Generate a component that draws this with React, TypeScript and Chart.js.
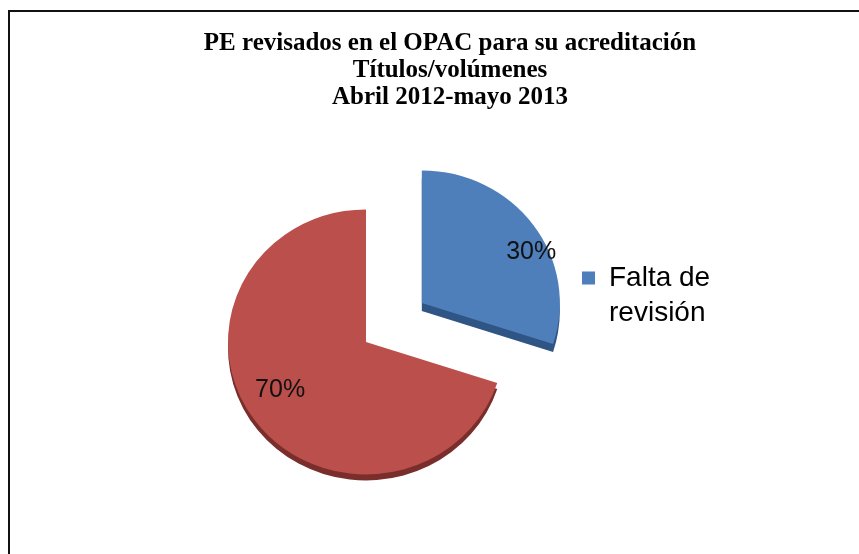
import React, { useEffect, useRef } from 'react';
import { Chart, registerables } from 'chart.js';

Chart.register(...registerables);

// ---- data ----
const categories = ['Falta de revisión', ''];
const values = [30, 70];
const legendLines = ['Falta de', 'revisión'];
const titleLines = [
  'PE revisados en el OPAC para su acreditación',
  'Títulos/volúmenes',
  'Abril 2012-mayo 2013',
];

// ---- style ----
const sliceColors = ['#4E7FBB', '#BA4F4B'];
const sideColors = ['#2F5584', '#7A2E2B'];
const explodeDistance = [69, 0];
const sideDepth = [8, 6];
const tiltY = 0.96;
const labelAngleFrac = [0.595, 0.523];
const labelRadiusFrac = [0.88, 0.72];

export default function App() {
  const ref = useRef<HTMLCanvasElement>(null);

  useEffect(() => {
    const canvas = ref.current;
    if (!canvas) return;

    const centerY = (chart: any) => (chart.chartArea.top + chart.chartArea.bottom) / 2;

    const explodePlugin = {
      id: 'explodeSlices',
      afterDatasetsUpdate(chart: any) {
        const meta = chart.getDatasetMeta(0);
        meta.data.forEach((arc: any, i: number) => {
          const d = explodeDistance[i] || 0;
          if (!d) return;
          const mid = (arc.startAngle + arc.endAngle) / 2;
          arc.x += Math.cos(mid) * d;
          arc.y += Math.sin(mid) * d;
        });
      },
    };

    // slight perspective tilt + visible side wall of each slice
    const depthPlugin = {
      id: 'sliceDepth',
      beforeDatasetsDraw(chart: any) {
        const ctx = chart.ctx;
        const cy = centerY(chart);
        ctx.save();
        ctx.translate(0, cy);
        ctx.scale(1, tiltY);
        ctx.translate(0, -cy);
        const meta = chart.getDatasetMeta(0);
        meta.data.forEach((arc: any, i: number) => {
          const { x, y, startAngle, endAngle, outerRadius } = arc;
          const d = (sideDepth[i] || 0) / tiltY;
          ctx.save();
          ctx.fillStyle = sideColors[i];
          ctx.beginPath();
          ctx.moveTo(x, y + d);
          ctx.arc(x, y + d, outerRadius, startAngle, endAngle);
          ctx.closePath();
          ctx.fill();
          ctx.restore();
        });
      },
      afterDatasetsDraw(chart: any) {
        chart.ctx.restore();
      },
    };

    const labelPlugin = {
      id: 'pctLabels',
      afterDatasetsDraw(chart: any) {
        const ctx = chart.ctx;
        const cy = centerY(chart);
        const meta = chart.getDatasetMeta(0);
        const total = values.reduce((a, b) => a + b, 0);
        ctx.save();
        ctx.font = '25px "Liberation Sans", Arial, sans-serif';
        ctx.fillStyle = '#111';
        ctx.textAlign = 'center';
        ctx.textBaseline = 'middle';
        meta.data.forEach((arc: any, i: number) => {
          const a = arc.startAngle + (arc.endAngle - arc.startAngle) * labelAngleFrac[i];
          const r = arc.outerRadius * labelRadiusFrac[i];
          const px = arc.x + Math.cos(a) * r;
          const py = cy + (arc.y + Math.sin(a) * r - cy) * tiltY;
          ctx.fillText(Math.round((values[i] / total) * 100) + '%', px, py);
        });
        ctx.restore();
      },
    };

    const chart = new Chart(canvas, {
      type: 'pie',
      data: {
        labels: categories,
        datasets: [
          {
            data: values,
            backgroundColor: sliceColors,
            borderWidth: 0,
            clip: false,
          } as any,
        ],
      },
      options: {
        responsive: false,
        animation: false,
        devicePixelRatio: 1,
        radius: 138,
        layout: { padding: { left: 184.5, right: 143.5, top: 0, bottom: 99.5 } },
        plugins: {
          title: {
            display: true,
            text: titleLines,
            color: '#000',
            font: {
              family: '"Liberation Serif", "Times New Roman", serif',
              size: 25,
              weight: 'bold',
              lineHeight: 27 / 25,
            },
            padding: { top: 30.5, bottom: 118 },
          },
          legend: {
            display: true,
            position: 'right',
            align: 'start',
            fullSize: false,
            labels: {
              boxWidth: 13,
              boxHeight: 13,
              padding: 34.5,
              color: '#000',
              font: { family: '"Liberation Sans", Arial, sans-serif', size: 28, lineHeight: 1.25 },
              generateLabels: () => [
                {
                  text: legendLines as any,
                  fillStyle: sliceColors[0],
                  strokeStyle: sliceColors[0],
                  lineWidth: 0,
                  hidden: false,
                  index: 0,
                  fontColor: '#000',
                } as any,
              ],
            },
          },
          tooltip: { enabled: false },
        },
      } as any,
      plugins: [explodePlugin, depthPlugin, labelPlugin],
    });

    return () => chart.destroy();
  }, []);

  return (
    <div
      style={{
        position: 'fixed',
        left: 0,
        top: 0,
        width: 859,
        height: 554,
        overflow: 'hidden',
        background: '#fff',
      }}
    >
      <div
        style={{
          position: 'absolute',
          left: 8,
          top: 10,
          width: 950,
          height: 650,
          borderTop: '2px solid #111',
          borderLeft: '2px solid #111',
        }}
      />
      <canvas
        ref={ref}
        width={859}
        height={554}
        style={{ position: 'absolute', left: 0, top: 0, width: 859, height: 554 }}
      />
    </div>
  );
}
